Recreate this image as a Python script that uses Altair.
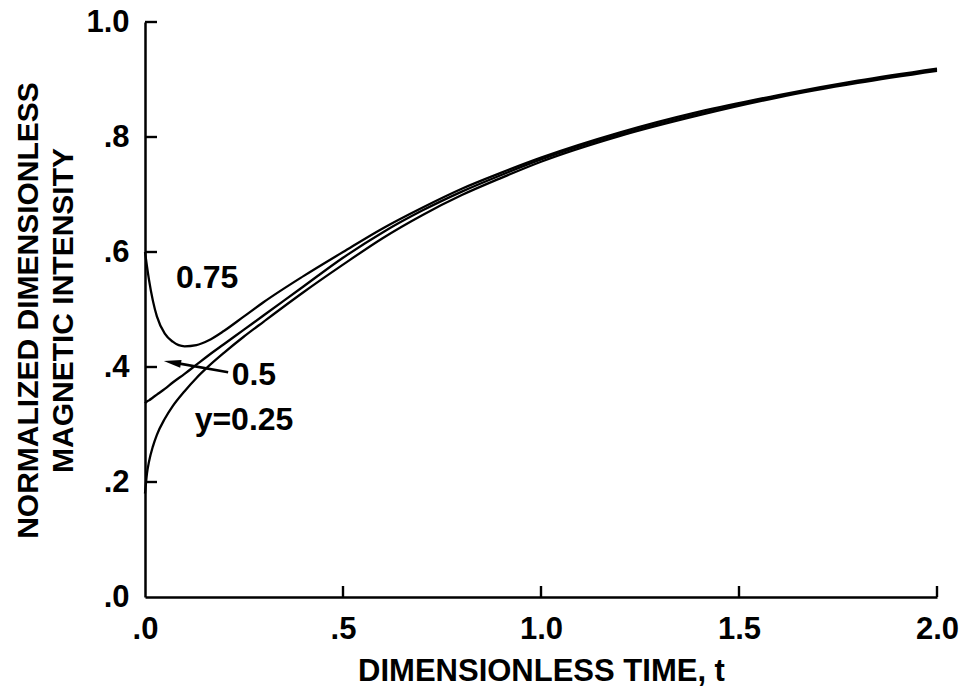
import altair as alt
import pandas as pd

# ---- data ----
t_vals = [0, 0.005, 0.01, 0.02, 0.03, 0.05, 0.07, 0.1, 0.13, 0.16, 0.2, 0.25, 0.3,
          0.4, 0.5, 0.6, 0.7, 0.8, 0.9, 1.0, 1.2, 1.4, 1.6, 1.8, 2.0]
h_075 = [0.600, 0.575, 0.552, 0.515, 0.488, 0.458, 0.444, 0.436, 0.438, 0.446, 0.463, 0.488, 0.513,
         0.558, 0.600, 0.641, 0.677, 0.710, 0.738, 0.764, 0.808, 0.844, 0.873, 0.898, 0.919]
h_050 = [0.337, 0.340, 0.342, 0.347, 0.352, 0.362, 0.373, 0.388, 0.404, 0.420, 0.440, 0.465, 0.490,
         0.540, 0.590, 0.634, 0.672, 0.705, 0.734, 0.761, 0.805, 0.841, 0.871, 0.896, 0.917]
h_025 = [0.180, 0.215, 0.235, 0.262, 0.282, 0.310, 0.332, 0.358, 0.381, 0.401, 0.425, 0.453, 0.479,
         0.530, 0.578, 0.624, 0.664, 0.699, 0.729, 0.757, 0.802, 0.838, 0.869, 0.894, 0.915]
series_names = ["0.75", "0.5", "0.25"]

x_ticks = [0.0, 0.5, 1.0, 1.5, 2.0]
x_tick_labels = [".0", ".5", "1.0", "1.5", "2.0"]
y_ticks = [0.0, 0.2, 0.4, 0.6, 0.8, 1.0]
y_tick_labels = [".0", ".2", ".4", ".6", ".8", "1.0"]

label_text = ["0.75", "0.5", "y=0.25"]
label_t = [0.157, 0.275, 0.25]
label_v = [0.537, 0.369, 0.290]

arrow_t = [0.21, 0.07]
arrow_v = [0.391, 0.408]
arrow_head_t = [0.069]
arrow_head_v = [0.408]

x_title = "DIMENSIONLESS TIME, t"
y_title = ["NORMALIZED DIMENSIONLESS", "MAGNETIC INTENSITY"]

FONT = "Liberation Sans, Arial, Helvetica, sans-serif"

# ---- tables ----
rows = []
for name, vals in zip(series_names, [h_075, h_050, h_025]):
    for t, v in zip(t_vals, vals):
        rows.append({"t": t, "v": v, "series": name})
curves = pd.DataFrame(rows)
labels = pd.DataFrame({"t": label_t, "v": label_v, "text": label_text})
arrow = pd.DataFrame({"t": arrow_t, "v": arrow_v})
arrow_head = pd.DataFrame({"t": arrow_head_t, "v": arrow_head_v})
xt = pd.DataFrame({"t": x_ticks[1:]})
yt = pd.DataFrame({"v": y_ticks[1:]})


def label_expr(vals, labs):
    expr = "''"
    for v, l in reversed(list(zip(vals, labs))):
        expr = f"abs(datum.value - {v}) < 1e-6 ? '{l}' : ({expr})"
    return expr


xscale = alt.Scale(domain=[0, 2], nice=False, zero=False)
yscale = alt.Scale(domain=[0, 1], nice=False, zero=False)

xaxis = alt.Axis(
    values=x_ticks, labelExpr=label_expr(x_ticks, x_tick_labels),
    title=x_title, grid=False, ticks=False, labelPadding=17,
    labelFont=FONT, labelFontSize=31, labelFontWeight="bold", labelColor="black",
    labelFlush=False, labelOverlap=False,
    titleFont=FONT, titleFontSize=31, titleFontWeight="bold", titleColor="black",
    titleBaseline="alphabetic", titleX=396, titleY=83,
    domainColor="black", domainWidth=2.5,
)
yaxis = alt.Axis(
    values=y_ticks, labelExpr=label_expr(y_ticks, y_tick_labels),
    title=y_title, grid=False, ticks=False, labelPadding=16,
    labelFont=FONT, labelFontSize=31, labelFontWeight="bold", labelColor="black",
    labelFlush=False, labelOverlap=False,
    titleFont=FONT, titleFontSize=30, titleFontWeight="bold", titleColor="black",
    titleBaseline="alphabetic", titleX=-108, titleY=288, titleLineHeight=35,
    domainColor="black", domainWidth=2.5,
)

lines = alt.Chart(curves).mark_line(color="black", strokeWidth=2.3, interpolate="monotone").encode(
    x=alt.X("t:Q", scale=xscale, axis=xaxis),
    y=alt.Y("v:Q", scale=yscale, axis=yaxis),
    detail="series:N",
)

xticks_layer = alt.Chart(xt).mark_rule(color="black", strokeWidth=2.4).encode(
    x="t:Q", y=alt.value(575), y2=alt.value(564)
)
yticks_layer = alt.Chart(yt).mark_rule(color="black", strokeWidth=2.4).encode(
    y="v:Q", x=alt.value(0), x2=alt.value(12)
)

texts = alt.Chart(labels).mark_text(
    font=FONT, fontSize=32, fontWeight="bold", color="black", align="center", baseline="alphabetic"
).encode(x="t:Q", y="v:Q", text="text:N")

arrow_line = alt.Chart(arrow).mark_line(color="black", strokeWidth=2.6).encode(x="t:Q", y="v:Q")
arrow_tip = alt.Chart(arrow_head).mark_point(
    shape="M -1 0 L 1 -0.45 L 1 0.45 Z", filled=True, color="black", opacity=1, size=300, angle=10
).encode(x="t:Q", y="v:Q")

chart = alt.layer(lines, xticks_layer, yticks_layer, texts, arrow_line, arrow_tip).properties(
    width=792, height=575,
    autosize=alt.AutoSizeParams(type="none"),
    padding={"left": 137, "top": 14, "right": 23, "bottom": 93},
    background="white",
).configure_view(stroke=None)

chart.save("out.html", embed_options={"renderer": "svg", "actions": False})
